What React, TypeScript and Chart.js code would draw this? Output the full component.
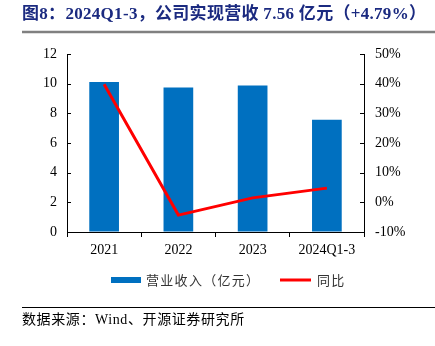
import React, { useEffect, useRef } from "react";
import { Chart, registerables } from "chart.js";

Chart.register(...registerables);

const categories = ["2021", "2022", "2023", "2024Q1-3"];
const revenue = [10.12, 9.74, 9.88, 7.56];
const yoy = [39.8, -4.3, 1.5, 4.79];
const leftTicks = [0, 2, 4, 6, 8, 10, 12];
const rightTicks = [-10, 0, 10, 20, 30, 40, 50];

const titleText = "图8：2024Q1-3，公司实现营收 7.56 亿元（+4.79%）";
const sourceText = "数据来源：Wind、开源证券研究所";
const barLabel = "营业收入（亿元）";
const lineLabel = "同比";

const serif = "'Times New Roman', 'Liberation Serif', 'Noto Sans CJK SC', serif";
const cjk = "'Noto Sans CJK SC', 'Liberation Serif', sans-serif";

export default function App() {
  const ref = useRef<HTMLCanvasElement | null>(null);

  useEffect(() => {
    document.body.style.margin = "0";
    const canvas = ref.current;
    if (!canvas) return;

    const overlay = {
      id: "overlay",
      afterDraw(chart: any) {
        const ctx = chart.ctx as any;
        const area = chart.chartArea;
        const yL = chart.scales.y;
        const yR = chart.scales.y1;
        ctx.save();
        // inward ticks
        ctx.strokeStyle = "#000";
        ctx.lineWidth = 1;
        ctx.beginPath();
        leftTicks.forEach((v) => {
          const py = Math.round(yL.getPixelForValue(v)) + 0.5;
          ctx.moveTo(area.left, py);
          ctx.lineTo(area.left + 4, py);
        });
        rightTicks.forEach((v) => {
          const py = Math.round(yR.getPixelForValue(v)) + 0.5;
          ctx.moveTo(area.right, py);
          ctx.lineTo(area.right - 4, py);
        });
        ctx.stroke();

        // title
        ctx.fillStyle = "#1B2A80";
        ctx.font = `bold 17px ${serif}`;
        ctx.textBaseline = "middle";
        ctx.textAlign = "left";
        ctx.letterSpacing = "0.3px";
        ctx.fillText(titleText, 22, 15);
        ctx.letterSpacing = "0px";
        ctx.strokeStyle = "#808080";
        ctx.lineWidth = 2.5;
        ctx.beginPath();
        ctx.moveTo(22, 32);
        ctx.lineTo(435, 32);
        ctx.stroke();

        // legend
        ctx.fillStyle = "#0070C0";
        ctx.fillRect(111, 277, 30, 6);
        ctx.fillStyle = "#333";
        ctx.font = `13px ${cjk}`;
        ctx.letterSpacing = "1.3px";
        ctx.fillText(barLabel, 146, 280);
        ctx.strokeStyle = "#FF0000";
        ctx.lineWidth = 3;
        ctx.beginPath();
        ctx.moveTo(280, 280);
        ctx.lineTo(311, 280);
        ctx.stroke();
        ctx.fillStyle = "#333";
        ctx.fillText(lineLabel, 317, 280);

        // footer
        ctx.letterSpacing = "0.6px";
        ctx.strokeStyle = "#000";
        ctx.lineWidth = 1;
        ctx.beginPath();
        ctx.moveTo(22, 307.5);
        ctx.lineTo(435, 307.5);
        ctx.stroke();
        ctx.fillStyle = "#000";
        ctx.font = `14px ${serif}`;
        ctx.fillText(sourceText, 22, 320);
        ctx.letterSpacing = "0px";
        ctx.restore();
      },
    };

    const tickFont = { family: serif, size: 14 };

    const chart = new Chart(canvas, {
      type: "bar",
      data: {
        labels: categories,
        datasets: [
          {
            type: "line",
            label: lineLabel,
            data: yoy,
            yAxisID: "y1",
            borderColor: "#FF0000",
            backgroundColor: "#FF0000",
            borderWidth: 3,
            pointRadius: 0,
            tension: 0,
            order: 0,
          } as any,
          {
            type: "bar",
            label: barLabel,
            data: revenue,
            yAxisID: "y",
            backgroundColor: "#0070C0",
            borderWidth: 0,
            categoryPercentage: 1,
            barPercentage: 0.4,
            order: 1,
          },
        ],
      },
      options: {
        responsive: false,
        animation: false,
        devicePixelRatio: 1,
        layout: { padding: { top: 54, bottom: 84, left: 0, right: 0 } },
        plugins: {
          legend: { display: false },
          tooltip: { enabled: false },
          title: { display: false },
        },
        scales: {
          x: {
            type: "category",
            offset: true,
            grid: {
              display: true,
              drawOnChartArea: false,
              drawTicks: true,
              tickLength: 5,
              color: "#000",
              offset: true,
            },
            border: { display: true, color: "#000", width: 1 },
            ticks: {
              font: tickFont,
              color: "#000",
              padding: 5,
              maxRotation: 0,
              autoSkip: false,
            },
            afterFit(s: any) {
              s.height = 30;
            },
          },
          y: {
            position: "left",
            min: 0,
            max: 12,
            ticks: { stepSize: 2, font: tickFont, color: "#000", padding: 10 },
            grid: { display: true, drawOnChartArea: false, drawTicks: false },
            border: { display: true, color: "#000", width: 1 },
            afterFit(s: any) {
              s.width = 67;
            },
          },
          y1: {
            position: "right",
            min: -10,
            max: 50,
            ticks: {
              stepSize: 10,
              font: tickFont,
              color: "#000",
              padding: 11,
              callback: (v: any) => `${v}%`,
            },
            grid: { display: true, drawOnChartArea: false, drawTicks: false },
            border: { display: true, color: "#000", width: 1 },
            afterFit(s: any) {
              s.width = 71;
            },
          },
        },
      } as any,
      plugins: [overlay],
    });

    return () => chart.destroy();
  }, []);

  return (
    <div style={{ width: 435, height: 346, background: "#fff" }}>
      <canvas ref={ref} width={435} height={346} style={{ width: 435, height: 346, display: "block" }} />
    </div>
  );
}
